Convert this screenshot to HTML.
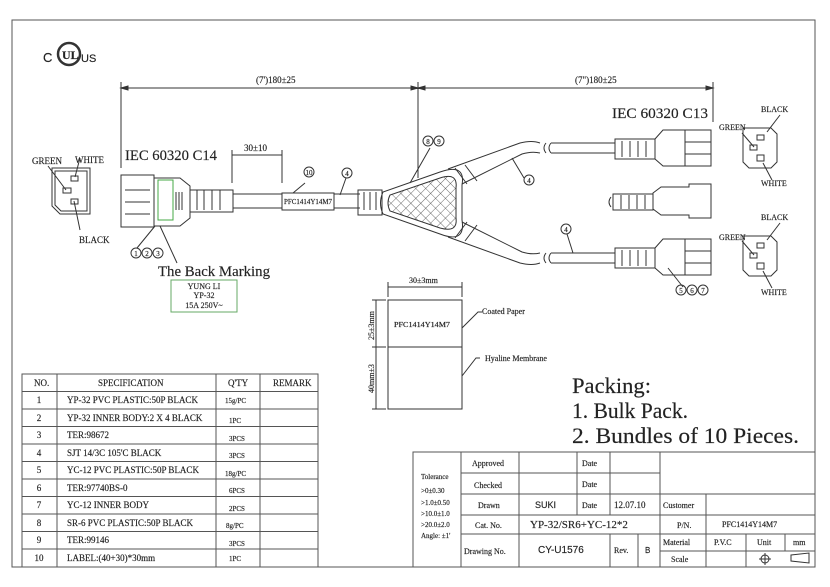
<!DOCTYPE html>
<html><head><meta charset="utf-8"><style>
html,body{margin:0;padding:0;background:#fff;}
svg{display:block;}
text{font-family:"Liberation Serif","Noto Serif CJK SC",serif;fill:#222;stroke:#222;stroke-width:0.15;}
.s{font-family:"Liberation Sans",sans-serif;}
</style></head><body>
<svg width="830" height="587" viewBox="0 0 830 587" xmlns="http://www.w3.org/2000/svg">
<defs>
<pattern id="hatch" width="7" height="7" patternUnits="userSpaceOnUse" patternTransform="rotate(45)">
<path d="M0,0 V7 M0,0 H7" stroke="#444" stroke-width="0.8" fill="none"/>
</pattern>
</defs>
<g fill="none" stroke="#333" stroke-width="1">
<rect x="12" y="20" width="803" height="547" stroke="#555"/>
<circle cx="69" cy="54" r="11" stroke-width="2.5"/>
</g>
<text x="43" y="62" font-size="13" class="s">C</text>
<text x="62" y="59" font-size="12" font-weight="bold">UL</text>
<text x="81" y="62" font-size="11" class="s">US</text>

<g fill="none" stroke="#333" stroke-width="1">
<line x1="121" y1="88" x2="713" y2="88"/>
<line x1="121" y1="82" x2="121" y2="168"/>
<line x1="418" y1="82" x2="418" y2="178"/>
<line x1="713" y1="82" x2="713" y2="122"/>
<path d="M121,88 l7,-2 v4z M418,88 l-7,-2 v4z M418,88 l7,-2 v4z M713,88 l-7,-2 v4z" fill="#333"/>
<line x1="232" y1="155" x2="282" y2="155"/>
<line x1="232" y1="150" x2="232" y2="183"/>
<line x1="282" y1="150" x2="282" y2="183"/>
<path d="M52,168 h38 v46 h-30 l-8,-8 z"/>
<path d="M55,171 h32 v40 h-26 l-6,-6 z"/>
<rect x="71" y="176" width="7" height="5"/>
<rect x="63" y="188" width="8" height="5"/>
<rect x="71" y="199" width="7" height="5"/>
<line x1="48" y1="166" x2="66" y2="190"/>
<line x1="80" y1="158" x2="75" y2="177"/>
<line x1="80" y1="230" x2="74" y2="201"/>
<rect x="121" y="175" width="33" height="52"/>
<line x1="125" y1="190" x2="150" y2="190"/><line x1="125" y1="202" x2="150" y2="202"/><line x1="125" y1="214" x2="150" y2="214"/>
<path d="M154,178 h26 l10,8 v32 l-10,8 h-26"/>
<rect x="158" y="180" width="15" height="40" stroke="#4a4"/>
<line x1="176" y1="192" x2="176" y2="210"/><line x1="179" y1="192" x2="179" y2="210"/><line x1="182" y1="192" x2="182" y2="210"/>
<path d="M190,190 h43 v22 h-43"/>
<path d="M197,190 v20 M204,190 v20 M212,190 v20 M220,190 v20"/>
<line x1="233" y1="194" x2="360" y2="194"/>
<line x1="233" y1="208" x2="360" y2="208"/>
<rect x="282" y="193" width="52" height="17" fill="#fff"/>
<rect x="358" y="190" width="24" height="25"/>
<path d="M364,192 v18 M370,192 v18 M376,192 v18"/>
<path d="M383,192 Q378,203 383,214 L440,234 Q466,244 462,220 L462,185 Q466,163 440,172 Z"/>
<path d="M390,195 Q386,203 390,211 L440,228 Q458,233 456,218 L456,188 Q458,172 440,178 Z" fill="url(#hatch)"/>
<path d="M448,169 L520,143 Q532,140 540,143"/>
<path d="M462,184 L522,154 Q532,151 540,153"/>
<path d="M462,222 L522,252 Q532,255 540,253"/>
<path d="M448,237 L520,263 Q532,266 540,263"/>
<path d="M465,165 l12,16 M455,168 l12,16 M465,241 l12,-16 M455,238 l12,-16"/>
<path d="M546,143 q-4,5 0,10 M551,143 q-4,5 0,10 M546,253 q-4,5 0,10 M551,253 q-4,5 0,10"/>
<line x1="551" y1="143" x2="615" y2="143"/><line x1="551" y1="153" x2="615" y2="153"/>
<rect x="615" y="139" width="40" height="20"/>
<path d="M622,141 v16 M630,141 v16 M638,141 v16 M646,141 v16"/>
<path d="M655,139 l8,-9 h48 v36 h-48 l-8,-7"/>
<line x1="685" y1="130" x2="685" y2="166"/>
<line x1="685" y1="142" x2="711" y2="142"/><line x1="685" y1="154" x2="711" y2="154"/>
<path d="M611,197 q-4,5 0,10"/>
<rect x="613" y="194" width="40" height="16"/>
<path d="M621,195 v14 M629,195 v14 M637,195 v14 M645,195 v14"/>
<path d="M653,193 l8,-6 h28 v-3 h22 v34 h-22 v-3 h-28 l-8,-6 z"/>
<line x1="551" y1="253" x2="615" y2="253"/><line x1="551" y1="263" x2="615" y2="263"/>
<rect x="615" y="248" width="40" height="20"/>
<path d="M622,250 v16 M630,250 v16 M638,250 v16 M646,250 v16"/>
<path d="M655,248 l8,-9 h48 v36 h-48 l-8,-7"/>
<line x1="685" y1="239" x2="685" y2="275"/>
<line x1="685" y1="251" x2="711" y2="251"/><line x1="685" y1="263" x2="711" y2="263"/>
<path d="M743,128 h28 l6,6 v28 l-6,6 h-22 l-6,-6 z"/>
<rect x="757" y="135" width="7" height="5"/><rect x="750" y="145" width="7" height="5"/><rect x="757" y="155" width="7" height="6"/>
<line x1="767" y1="132" x2="780" y2="115"/><line x1="742" y1="133" x2="754" y2="147"/><line x1="763" y1="163" x2="772" y2="180"/>
<path d="M743,236 h28 l6,6 v28 l-6,6 h-22 l-6,-6 z"/>
<rect x="757" y="243" width="7" height="5"/><rect x="750" y="253" width="7" height="5"/><rect x="757" y="263" width="7" height="6"/>
<line x1="767" y1="240" x2="780" y2="223"/><line x1="742" y1="241" x2="754" y2="255"/><line x1="763" y1="271" x2="772" y2="288"/>
<line x1="137" y1="248" x2="155" y2="226"/>
<line x1="177" y1="263" x2="160" y2="226"/>
<line x1="305" y1="183" x2="293" y2="193"/>
<line x1="346" y1="178" x2="340" y2="195"/>
<line x1="430" y1="148" x2="410" y2="183"/>
<line x1="524" y1="178" x2="512" y2="158"/>
<line x1="567" y1="234" x2="573" y2="253"/>
<line x1="683" y1="287" x2="668" y2="268"/>
<circle cx="136" cy="253" r="5"/><circle cx="147" cy="253" r="5"/><circle cx="158" cy="253" r="5"/>
<circle cx="309" cy="172" r="5"/><circle cx="347" cy="173" r="5"/>
<circle cx="428" cy="141" r="5"/><circle cx="439" cy="141" r="5"/>
<circle cx="529" cy="180" r="5"/><circle cx="566" cy="229" r="5"/>
<circle cx="681" cy="290" r="5"/><circle cx="692" cy="290" r="5"/><circle cx="703" cy="290" r="5"/>
<rect x="171" y="280" width="66" height="32" stroke="#6a6"/>
<line x1="388" y1="287" x2="462" y2="287"/>
<line x1="388" y1="282" x2="388" y2="297"/><line x1="462" y1="282" x2="462" y2="297"/>
<rect x="388" y="300" width="74" height="109"/>
<line x1="388" y1="347" x2="462" y2="347"/>
<line x1="376" y1="300" x2="376" y2="409"/>
<line x1="372" y1="300" x2="386" y2="300"/><line x1="372" y1="347" x2="386" y2="347"/><line x1="372" y1="409" x2="386" y2="409"/>
<path d="M462,328 L478,312 h4 M462,376 L476,358 h4"/>
<g stroke="#555">
<rect x="22" y="374" width="296" height="193"/>
<path d="M22,391.5 H318 M22,409 H318 M22,426.5 H318 M22,444 H318 M22,461.5 H318 M22,479 H318 M22,496.5 H318 M22,514 H318 M22,531.5 H318 M22,549 H318"/>
<path d="M57,374 V567 M216,374 V567 M260,374 V567"/>
<rect x="413" y="452" width="402" height="115"/>
<path d="M461,452 V567 M519,452 V567 M577,452 V515 M610,452 V515 M610,534 V567 M638,534 V567 M660,452 V567 M706,494 V567 M746,534 V567 M785,534 V551"/>
<path d="M461,473 H660 M461,494 H815 M461,515 H815 M461,534 H815 M660,551 H815"/>
</g>
<circle cx="765" cy="559" r="4"/><path d="M759,559 h12 M765,553 v12"/>
<path d="M791,555 l18,-2 v10 l-18,-2z"/>
</g>

<g font-size="9">
<text x="32" y="164">GREEN</text><text x="75" y="163">WHITE</text><text x="79" y="243">BLACK</text>
<text x="125" y="160" font-size="15" textLength="92" lengthAdjust="spacingAndGlyphs">IEC 60320 C14</text>
<text x="244" y="151" font-size="9">30±10</text>
<text x="256" y="83" font-size="9">(7')180±25</text>
<text x="575" y="83" font-size="9">(7")180±25</text>
<text x="612" y="118" font-size="15" textLength="96" lengthAdjust="spacingAndGlyphs">IEC 60320 C13</text>
<text x="284" y="204" font-size="7" textLength="48" lengthAdjust="spacingAndGlyphs">PFC1414Y14M7</text>
<text x="761" y="112" font-size="8">BLACK</text><text x="719" y="130" font-size="8">GREEN</text><text x="761" y="186" font-size="8">WHITE</text>
<text x="761" y="220" font-size="8">BLACK</text><text x="719" y="240" font-size="8">GREEN</text><text x="761" y="295" font-size="8">WHITE</text>
<g font-size="7" text-anchor="middle">
<text x="136" y="256">1</text><text x="147" y="256">2</text><text x="158" y="256">3</text>
<text x="309" y="175">10</text><text x="347" y="176">4</text>
<text x="428" y="144">8</text><text x="439" y="144">9</text>
<text x="529" y="183">4</text><text x="566" y="232">4</text>
<text x="681" y="293">5</text><text x="692" y="293">6</text><text x="703" y="293">7</text>
</g>
<text x="158" y="276" font-size="15" textLength="112" lengthAdjust="spacingAndGlyphs">The Back Marking</text>
<text x="204" y="289" font-size="8" text-anchor="middle">YUNG LI</text>
<text x="204" y="298" font-size="8" text-anchor="middle">YP-32</text>
<text x="204" y="308" font-size="8" text-anchor="middle">15A 250V~</text>
<text x="409" y="283" font-size="8">30±3mm</text>
<text x="394" y="327" font-size="7" textLength="56" lengthAdjust="spacingAndGlyphs">PFC1414Y14M7</text>
<text x="482" y="314" font-size="8">Coated Paper</text>
<text x="485" y="361" font-size="8">Hyaline Membrane</text>
<text transform="translate(374,340) rotate(-90)" font-size="8">25±3mm</text>
<text transform="translate(374,393) rotate(-90)" font-size="8">40mm±3</text>
<text x="572" y="393" font-size="22" textLength="79" lengthAdjust="spacingAndGlyphs">Packing:</text>
<text x="572" y="418" font-size="22" textLength="116" lengthAdjust="spacingAndGlyphs">1. Bulk Pack.</text>
<text x="572" y="443" font-size="22" textLength="227" lengthAdjust="spacingAndGlyphs">2. Bundles of 10 Pieces.</text>

<g font-size="9">
<text x="34" y="386">NO.</text><text x="98" y="386">SPECIFICATION</text><text x="228" y="386">Q'TY</text><text x="273" y="386">REMARK</text>
<g text-anchor="middle"><text x="39" y="403">1</text><text x="39" y="421">2</text><text x="39" y="438">3</text><text x="39" y="456">4</text><text x="39" y="473">5</text><text x="39" y="491">6</text><text x="39" y="508">7</text><text x="39" y="526">8</text><text x="39" y="543">9</text><text x="39" y="561">10</text></g>
<text x="67" y="403">YP-32 PVC PLASTIC:50P BLACK</text>
<text x="67" y="421">YP-32 INNER BODY:2 X 4 BLACK</text>
<text x="67" y="438">TER:98672</text>
<text x="67" y="456">SJT 14/3C 105'C BLACK</text>
<text x="67" y="473">YC-12 PVC PLASTIC:50P BLACK</text>
<text x="67" y="491">TER:97740BS-0</text>
<text x="67" y="508">YC-12 INNER BODY</text>
<text x="67" y="526">SR-6 PVC PLASTIC:50P BLACK</text>
<text x="67" y="543">TER:99146</text>
<text x="67" y="561">LABEL:(40+30)*30mm</text>
<g font-size="7"><text x="225" y="403">15g/PC</text><text x="229" y="423">1PC</text><text x="229" y="441">3PCS</text><text x="229" y="458">3PCS</text><text x="225" y="476">18g/PC</text><text x="229" y="493">6PCS</text><text x="229" y="511">2PCS</text><text x="226" y="528">8g/PC</text><text x="229" y="546">3PCS</text><text x="229" y="561">1PC</text></g>
</g>

<g font-size="8">
<text x="421" y="479" font-size="7">Tolerance</text>
<text x="421" y="493" font-size="7">&gt;0±0.30</text>
<text x="421" y="505" font-size="7">&gt;1.0±0.50</text>
<text x="421" y="516" font-size="7">&gt;10.0±1.0</text>
<text x="421" y="527" font-size="7">&gt;20.0±2.0</text>
<text x="421" y="538" font-size="7">Angle: ±1'</text>
<text x="472" y="466">Approved</text><text x="474" y="488">Checked</text><text x="478" y="508">Drawn</text>
<text x="475" y="528">Cat. No.</text><text x="464" y="554">Drawing No.</text>
<text x="582" y="466">Date</text><text x="582" y="487">Date</text><text x="582" y="508">Date</text>
<text x="535" y="508" class="s" font-size="9">SUKI</text>
<text x="614" y="508" font-size="9">12.07.10</text>
<text x="663" y="508">Customer</text>
<text x="530" y="528" font-size="11">YP-32/SR6+YC-12*2</text>
<text x="677" y="528">P/N.</text>
<text x="722" y="527">PFC1414Y14M7</text>
<text x="538" y="553" class="s" font-size="10">CY-U1576</text>
<text x="614" y="553">Rev.</text><text x="645" y="553" class="s">B</text>
<text x="663" y="545">Material</text><text x="671" y="562">Scale</text>
<text x="714" y="545">P.V.C</text><text x="757" y="545">Unit</text><text x="793" y="545">mm</text>
</g>
</g>
</svg>
</body></html>
